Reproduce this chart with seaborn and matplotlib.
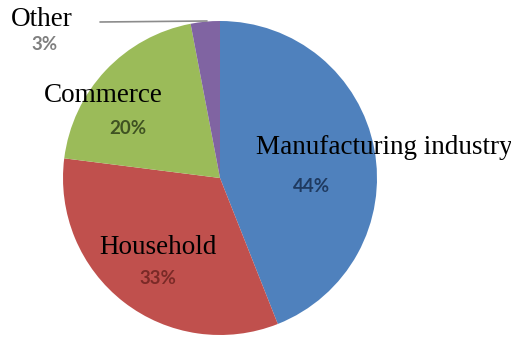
import matplotlib
matplotlib.use("Agg")
import matplotlib.pyplot as plt
import seaborn as sns

# Share of consumption by sector
sectors = ["Manufacturing industry", "Household", "Commerce", "Other"]
shares = [44, 33, 20, 3]

slice_colors = ["#4F81BD", "#C0504D", "#9BBB59", "#8064A2"]
pct_colors = ["#1F3A60", "#7A2A27", "#3F5222", "#7F7F7F"]

sns.set_theme(style="white")

W, H = 511, 341
fig = plt.figure(figsize=(W / 100, H / 100), dpi=100)
ax = fig.add_axes([0, 0, 1, 1])

cx, cy, r = 220, H - 178, 157
ax.pie(shares, colors=slice_colors, startangle=90, counterclock=False,
       center=(cx, cy), radius=r, frame=True,
       wedgeprops=dict(linewidth=0))
ax.set_xlim(0, W)
ax.set_ylim(0, H)
ax.set_aspect("equal")
ax.axis("off")

# category name and percentage positions (pixel layout, y from top)
name_pos = [(384, 147), (158, 247), (103, 95), (42, 19)]
pct_pos = [(312, 186), (158, 278), (128, 128), (44, 45)]

for name, val, (nx, ny), (px, py), pc in zip(sectors, shares, name_pos, pct_pos, pct_colors):
    ax.text(nx, H - ny, name, ha="center", va="center",
            fontsize=19.5, family="Liberation Serif", color="black")
    ax.text(px, H - py, f"{val}%", ha="center", va="center",
            fontsize=13.5, family="Lato", fontweight="bold", color=pc)

# leader line for the small slice
ax.plot([100, 207], [H - 22, H - 21], color="#8C8C8C", linewidth=1.2)

fig.savefig("out.png", dpi=100)
